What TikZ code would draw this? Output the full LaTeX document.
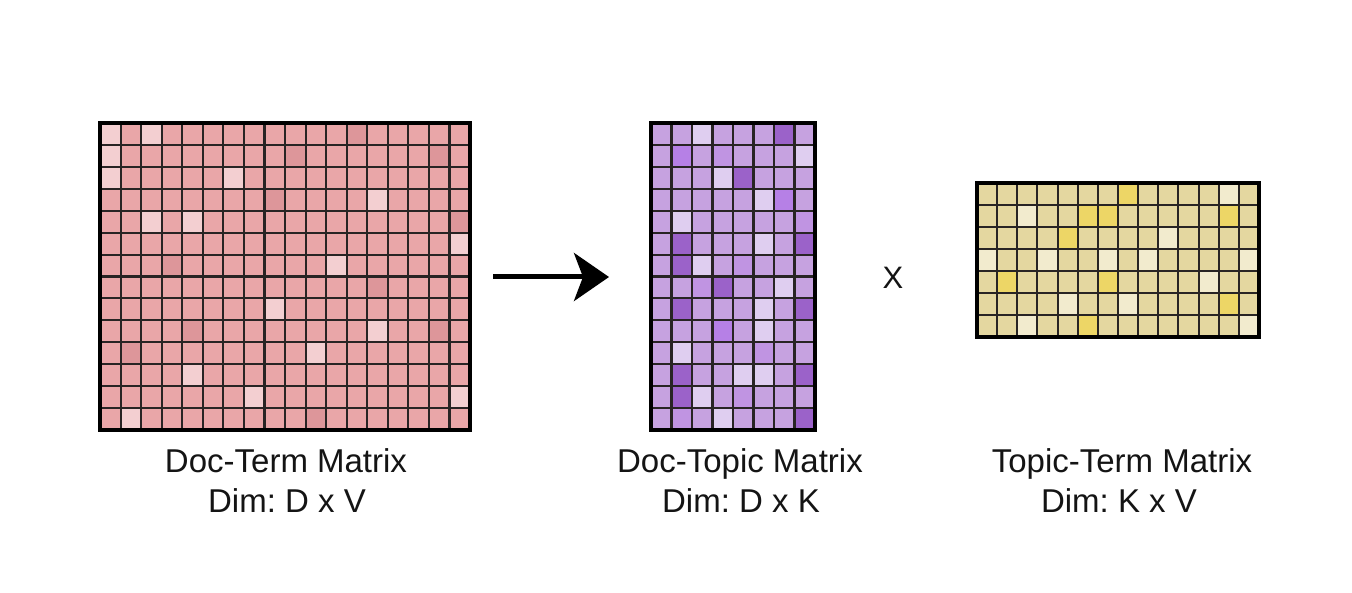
\documentclass[tikz,border=0pt]{standalone}
\usepackage{fontspec}
\setmainfont{Liberation Sans}
\usetikzlibrary{arrows.meta}
\frenchspacing
\definecolor{pinkB}{RGB}{233,166,168}
\definecolor{pinkL}{RGB}{243,207,209}
\definecolor{pinkD}{RGB}{221,150,154}
\definecolor{purB}{RGB}{198,162,224}
\definecolor{purL}{RGB}{223,206,240}
\definecolor{purD}{RGB}{155,98,201}
\definecolor{purM}{RGB}{182,128,230}
\definecolor{purS}{RGB}{192,148,226}
\definecolor{yelB}{RGB}{228,215,160}
\definecolor{yelL}{RGB}{242,235,206}
\definecolor{yelY}{RGB}{237,214,102}
\definecolor{gridc}{RGB}{40,36,36}
\begin{document}
\begin{tikzpicture}[x=1pt,y=-1pt,
  gridline/.style={line width=2.1pt, draw=gridc},
  frame/.style={line width=3.2pt, draw=black},
  lbl/.style={font=\fontsize{33}{40}\selectfont, anchor=base, inner sep=0pt, text=black!92},
  arrowline/.style={line width=5pt, -{Stealth[length=35pt,width=48pt,inset=9pt]}}]
\useasboundingbox[fill=white] (0,0) rectangle (1352,593);

% Doc-Term matrix 18 x 14
\begin{scope}[shift={(100,123)}, x=20.556pt, y=-21.929pt]
  \fill[pinkB] (0,0) rectangle (18,14);
  \foreach \c/\r in {0/0,2/0,0/1,0/2,6/2,13/3,2/4,4/4,17/5,11/6,8/8,13/9,10/10,4/11,7/12,17/12,1/13}
    \fill[pinkL] (\c,\r) rectangle ++(1,1);
  \foreach \c/\r in {12/0,9/1,16/1,8/3,17/4,3/6,13/7,4/9,16/9,1/10,10/13}
    \fill[pinkD] (\c,\r) rectangle ++(1,1);
  \foreach \i in {1,...,17} \draw[gridline] (\i,0) -- (\i,14);
  \foreach \j in {1,...,13} \draw[gridline] (0,\j) -- (18,\j);
  \draw[frame] (0,0) rectangle (18,14);
\end{scope}

% Doc-Topic matrix 8 x 14
\begin{scope}[shift={(651,123)}, x=20.5pt, y=-21.929pt]
  \fill[purB] (0,0) rectangle (8,14);
  \foreach \c/\r in {2/0,7/1,3/2,5/3,1/4,5/5,2/6,6/7,5/8,5/9,1/10,4/11,5/11,2/12,3/13}
    \fill[purL] (\c,\r) rectangle ++(1,1);
  \foreach \c/\r in {6/0,4/2,1/5,7/5,1/6,3/7,1/8,7/8,1/11,7/11,1/12,7/13}
    \fill[purD] (\c,\r) rectangle ++(1,1);
  \foreach \c/\r in {1/1,6/3,3/9}
    \fill[purM] (\c,\r) rectangle ++(1,1);
  \foreach \c/\r in {3/1,7/4,2/7,5/10,1/13,4/12,4/6}
    \fill[purS] (\c,\r) rectangle ++(1,1);
  \foreach \i in {1,...,7} \draw[gridline] (\i,0) -- (\i,14);
  \foreach \j in {1,...,13} \draw[gridline] (0,\j) -- (8,\j);
  \draw[frame] (0,0) rectangle (8,14);
\end{scope}

% Topic-Term matrix 14 x 7
\begin{scope}[shift={(977,183)}, x=20.143pt, y=-22pt]
  \fill[yelB] (0,0) rectangle (14,7);
  \foreach \c/\r in {12/0,2/1,9/2,0/3,3/3,6/3,8/3,13/3,11/4,4/5,7/5,2/6,13/6}
    \fill[yelL] (\c,\r) rectangle ++(1,1);
  \foreach \c/\r in {7/0,5/1,6/1,12/1,4/2,1/4,6/4,12/5,5/6}
    \fill[yelY] (\c,\r) rectangle ++(1,1);
  \foreach \i in {1,...,13} \draw[gridline] (\i,0) -- (\i,7);
  \foreach \j in {1,...,6} \draw[gridline] (0,\j) -- (14,\j);
  \draw[frame] (0,0) rectangle (14,7);
\end{scope}

% arrow and times sign
\coordinate (arrS) at (493,277);
\coordinate (arrE) at (609,277);
\draw[arrowline] (arrS) -- (arrE);
\node[inner sep=0pt, font=\fontsize{31}{36}\selectfont, text=black!92] (times) at (893,278) {X};

% labels
\node[lbl] (dtl1) at (286,472) {Doc-Term Matrix};
\node[lbl] (dtl2) at (287,512) {Dim: D x V};
\node[lbl] (dpl1) at (740,472) {Doc-Topic Matrix};
\node[lbl] (dpl2) at (741,512) {Dim: D x K};
\node[lbl] (tpl1) at (1122,472) {Topic-Term Matrix};
\node[lbl] (tpl2) at (1119,512) {Dim: K x V};
\end{tikzpicture}
\end{document}
